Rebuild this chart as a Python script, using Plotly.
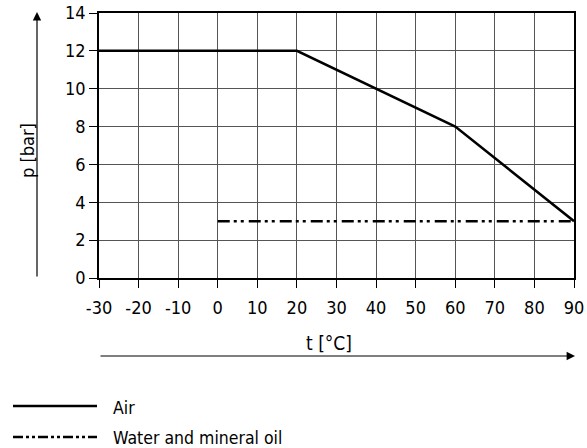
import plotly.graph_objects as go

# Data
air_t = [-30, 20, 60, 90]
air_p = [12, 12, 8, 3]
water_t = [0, 90]
water_p = [3, 3]
x_ticks = [-30, -20, -10, 0, 10, 20, 30, 40, 50, 60, 70, 80, 90]
x_ticktext = ["-30", "-20", "-10", "0", "10", "20", "30", "40", "50", "60", "70", "80", "90"]
y_ticks = [0, 2, 4, 6, 8, 10, 12, 14]
legend_labels = ["Air", "Water and mineral oil"]

FONT = "Liberation Sans Narrow, DejaVu Sans Condensed, Arial Narrow, sans-serif"
W, H = 587, 448
# plot area in screen pixels: x 99..574, y 13..278
L = 99
R = W - 574
T = 13
B = H - 278
pw = W - L - R
ph = H - T - B

def px_x(px):
    return (px - L) / pw

def px_y(py):
    return (H - B - py) / ph

WATER_DASH = "12px,4px,3px,4px,3px,5px"

fig = go.Figure()
fig.add_trace(go.Scatter(x=air_t, y=air_p, mode="lines",
                         line=dict(color="black", width=2.5), name=legend_labels[0],
                         showlegend=False))
fig.add_trace(go.Scatter(x=water_t, y=water_p, mode="lines",
                         line=dict(color="black", width=2.5, dash=WATER_DASH),
                         name=legend_labels[1], showlegend=False))

axis_common = dict(showgrid=True, gridcolor="#555555", gridwidth=1.2,
                   showline=True, linecolor="black", linewidth=1.5, mirror=True,
                   ticks="outside", ticklen=8, tickcolor="black", tickwidth=1.2,
                   zeroline=False, automargin=False, ticklabeloverflow="allow",
                   tickfont=dict(family=FONT, size=18, color="black"))

fig.update_xaxes(range=[-30, 90], tickvals=x_ticks, ticktext=x_ticktext,
                 ticklabelstandoff=5, **axis_common)
fig.update_yaxes(range=[0, 14], tickvals=y_ticks, **axis_common)

inner_common = dict(showgrid=False, showline=False, zeroline=False, showticklabels=False,
                    ticks="inside", ticklen=7, tickcolor="black", tickwidth=1.2,
                    automargin=False)

shapes = []
annotations = []

# y arrow
annotations.append(dict(x=px_x(37), y=px_y(12), xref="paper", yref="paper",
                        ax=0, ay=266, axref="pixel", ayref="pixel",
                        showarrow=True, arrowhead=2, arrowsize=1.4, arrowwidth=1.2,
                        arrowcolor="black", text=""))
annotations.append(dict(x=px_x(27), y=px_y(151), xref="paper", yref="paper",
                        xanchor="center", yanchor="middle",
                        text="p [bar]", showarrow=False, textangle=-90,
                        font=dict(family=FONT, size=18, color="black")))
# x arrow
annotations.append(dict(x=px_x(575), y=px_y(356), xref="paper", yref="paper",
                        ax=-476, ay=0, axref="pixel", ayref="pixel",
                        showarrow=True, arrowhead=2, arrowsize=1.4, arrowwidth=1.2,
                        arrowcolor="black", text=""))
annotations.append(dict(x=px_x(329), y=px_y(343), xref="paper", yref="paper",
                        xanchor="center", yanchor="middle",
                        text="t [°C]", showarrow=False,
                        font=dict(family=FONT, size=19, color="black")))

# legend
shapes.append(dict(type="line", xref="paper", yref="paper",
                   x0=px_x(13), x1=px_x(97), y0=px_y(406), y1=px_y(406),
                   line=dict(color="black", width=2.5)))
shapes.append(dict(type="line", xref="paper", yref="paper",
                   x0=px_x(13), x1=px_x(97), y0=px_y(437), y1=px_y(437),
                   line=dict(color="black", width=2.5, dash="10px,3px,3px,3px,3px,3px")))
annotations.append(dict(x=px_x(111), y=px_y(408), xref="paper", yref="paper",
                        text=legend_labels[0], showarrow=False,
                        xanchor="left", yanchor="middle",
                        font=dict(family=FONT, size=17.5, color="black")))
annotations.append(dict(x=px_x(111), y=px_y(438), xref="paper", yref="paper",
                        text=legend_labels[1], showarrow=False,
                        xanchor="left", yanchor="middle",
                        font=dict(family=FONT, size=17.5, color="black")))

fig.update_layout(width=W, height=H, margin=dict(l=L, r=R, t=T, b=B, pad=0),
                  plot_bgcolor="white", paper_bgcolor="white",
                  xaxis2=dict(overlaying="x", anchor="y", side="bottom",
                              range=[-30, 90], tickvals=x_ticks, **inner_common),
                  yaxis2=dict(overlaying="y", anchor="x", side="left",
                              range=[0, 14], tickvals=y_ticks, **inner_common),
                  shapes=shapes, annotations=annotations, showlegend=False,
                  font=dict(family=FONT, color="black"))

# remove the default page margin so the figure fills the window exactly
fig.write_html("out.html", config={"displayModeBar": False},
               post_script="document.body.style.margin='0';document.body.style.overflow='hidden';")
